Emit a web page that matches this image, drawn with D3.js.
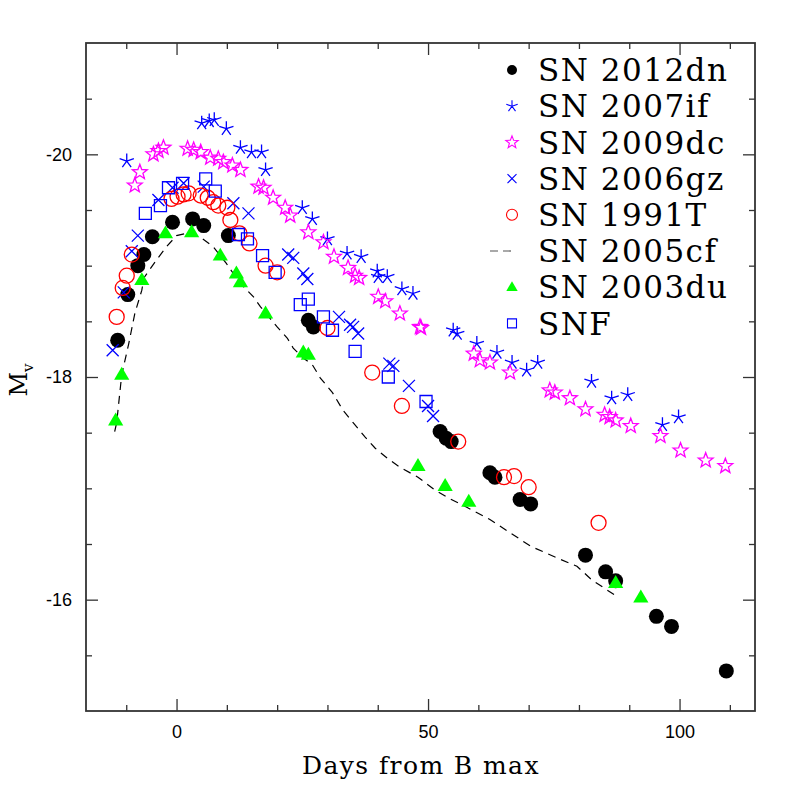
<!DOCTYPE html>
<html>
<head>
<meta charset="utf-8">
<script src="https://cdn.jsdelivr.net/npm/d3@7"></script>
<style>
  body { margin: 0; background: #fff; }
  svg { display: block; }
</style>
</head>
<body>
<div id="chart"></div>
<script>
// light curves: [days from B max, M_V]
const sn2012dn = [[-11.7,-18.33],[-9.7,-18.74],[-7.7,-19.00],[-6.5,-19.10],[-4.8,-19.26],[-0.8,-19.39],[3.2,-19.42],[5.4,-19.36],[10.3,-19.27],[26.2,-18.51],[27.2,-18.45],[52.4,-17.51],[53.6,-17.45],[54.6,-17.42],[62.3,-17.14],[63.3,-17.10],[68.3,-16.90],[70.4,-16.86],[81.3,-16.40],[85.3,-16.25],[87.3,-16.17],[95.4,-15.85],[98.4,-15.76],[109.3,-15.36]]
const sn2007if = [[-9.9,-19.94],[5.0,-20.28],[6.5,-20.30],[7.5,-20.31],[9.9,-20.23],[12.7,-20.06],[14.9,-20.02],[16.9,-20.02],[17.7,-19.86],[25.0,-19.52],[27.0,-19.42],[30.0,-19.24],[33.9,-19.11],[36.7,-19.08],[39.9,-18.95],[40.1,-18.90],[41.9,-18.90],[44.8,-18.79],[47.0,-18.75],[55.0,-18.42],[55.8,-18.39],[59.7,-18.30],[63.7,-18.22],[66.7,-18.13],[69.6,-18.06],[71.8,-18.13],[82.5,-17.96],[86.5,-17.81],[89.7,-17.84],[96.6,-17.57],[99.8,-17.64]]
const sn2009dc = [[-8.3,-19.72],[-7.3,-19.84],[-4.6,-20.00],[-3.6,-20.03],[-2.6,-20.06],[2.2,-20.05],[3.4,-20.04],[4.8,-20.02],[6.7,-19.97],[8.3,-19.96],[9.3,-19.93],[11.1,-19.90],[12.7,-19.86],[16.3,-19.71],[17.3,-19.70],[19.2,-19.61],[21.6,-19.52],[22.6,-19.45],[26.2,-19.30],[29.2,-19.21],[31.3,-19.08],[34.1,-18.98],[35.5,-18.91],[36.3,-18.89],[40.1,-18.72],[41.5,-18.68],[44.4,-18.57],[48.4,-18.45],[48.6,-18.44],[59.1,-18.21],[60.3,-18.15],[62.3,-18.13],[66.3,-18.04],[74.2,-17.88],[75.2,-17.86],[78.2,-17.81],[81.3,-17.71],[85.1,-17.66],[86.1,-17.64],[87.3,-17.61],[90.3,-17.56],[96.2,-17.47],[100.2,-17.34],[105.2,-17.25],[109.1,-17.20]]
const sn2006gz = [[-12.7,-18.24],[-10.5,-18.76],[-8.9,-19.13],[-7.7,-19.27],[-3.6,-19.59],[-0.8,-19.70],[1.4,-19.74],[5.4,-19.71],[11.3,-19.56],[14.3,-19.47],[22.2,-19.10],[23.2,-19.07],[25.2,-18.93],[26.0,-18.88],[32.3,-18.54],[34.5,-18.47],[35.1,-18.45],[36.1,-18.39],[42.3,-18.12],[43.1,-18.10],[46.2,-17.92],[50.0,-17.74],[51.0,-17.65]]
const sn1991T = [[-11.9,-18.54],[-10.7,-18.80],[-9.9,-18.91],[-8.9,-19.10],[-1.0,-19.60],[0.2,-19.62],[1.4,-19.64],[2.4,-19.65],[4.8,-19.63],[6.2,-19.61],[7.3,-19.57],[8.3,-19.54],[10.1,-19.52],[10.7,-19.41],[12.5,-19.29],[14.5,-19.20],[17.7,-19.00],[20.0,-18.94],[30.0,-18.44],[38.9,-18.04],[44.8,-17.74],[56.0,-17.42],[65.1,-17.10],[67.1,-17.11],[70.0,-17.01],[83.9,-16.69]]
const sn2005cf = [[-12.3,-17.51],[-11.9,-17.59],[-10.9,-18.02],[-9.5,-18.30],[-8.3,-18.57],[-6.9,-18.78],[-6.5,-18.89],[-4.0,-19.05],[-2.0,-19.17],[0.0,-19.27],[2.0,-19.29],[4.6,-19.26],[7.3,-19.17],[9.9,-19.02],[12.5,-18.85],[15.3,-18.72],[16.7,-18.63],[20.0,-18.45],[22.0,-18.35],[23.2,-18.26],[25.2,-18.17],[27.0,-18.11],[28.6,-17.99],[31.0,-17.86],[33.1,-17.70],[35.1,-17.59],[37.5,-17.46],[39.5,-17.36],[41.9,-17.27],[44.4,-17.19],[48.0,-17.10],[51.2,-16.99],[54.2,-16.91],[57.7,-16.83],[62.3,-16.72],[70.4,-16.48],[76.4,-16.36],[79.6,-16.30],[82.5,-16.18],[87.5,-16.03]]
const sn2003du = [[-12.1,-17.61],[-10.9,-18.02],[-6.9,-18.87],[-2.2,-19.29],[3.0,-19.30],[8.7,-19.09],[11.9,-18.93],[12.7,-18.85],[17.7,-18.57],[25.2,-18.22],[26.2,-18.20],[48.0,-17.20],[53.4,-17.02],[58.1,-16.88],[87.3,-16.15],[92.3,-16.02]]
const snf = [[-6.2,-19.47],[-3.2,-19.54],[-1.6,-19.70],[1.2,-19.74],[5.8,-19.78],[7.7,-19.67],[12.3,-19.28],[14.1,-19.24],[17.1,-19.09],[19.6,-18.94],[24.6,-18.65],[26.2,-18.70],[29.2,-18.54],[31.0,-18.42],[35.5,-18.23],[42.1,-18.00],[49.6,-17.78]]

const legendNames = ["SN 2012dn","SN 2007if","SN 2009dc","SN 2006gz","SN 1991T","SN 2005cf","SN 2003du","SNF"]
const xMajor = [0, 50, 100]
const yMajor = [-20, -18, -16]

const W = 797, H = 797
const mLeft = 86, mRight = 755, mTop = 43, mBottom = 711

const x = d3.scaleLinear().domain([-18, 115]).range([mLeft, mRight])
const y = d3.scaleLinear().domain([-21, -15]).range([mTop, mBottom])

const svg = d3.select("#chart").append("svg").attr("width", W).attr("height", H)

// custom marker shapes, size = radius
const crossX = { draw(c, r) { c.moveTo(-r,-r); c.lineTo(r,r); c.moveTo(-r,r); c.lineTo(r,-r) } }
const aster5 = { draw(c, r) {
  for (let k = 0; k < 5; k++) {
    const a = -Math.PI/2 + k*2*Math.PI/5
    c.moveTo(0,0); c.lineTo(r*Math.cos(a), r*Math.sin(a))
  }
}}
const star5 = { draw(c, r) {
  const ri = r*0.42
  for (let k = 0; k < 10; k++) {
    const a = -Math.PI/2 + k*Math.PI/5, rr = k % 2 ? ri : r
    k ? c.lineTo(rr*Math.cos(a), rr*Math.sin(a)) : c.moveTo(rr*Math.cos(a), rr*Math.sin(a))
  }
  c.closePath()
}}
const circ = { draw(c, r) { c.moveTo(r,0); c.arc(0,0,r,0,2*Math.PI) } }
const sq = { draw(c, r) { c.rect(-r,-r,2*r,2*r) } }
const tri = { draw(c, r) { c.moveTo(0,-r); c.lineTo(r*0.95,r*0.62); c.lineTo(-r*0.95,r*0.62); c.closePath() } }

const series = [
  {data: sn2012dn, type: circ, r: 7.5, small: 5, fill: "#000", stroke: "none"},
  {data: sn2007if, type: aster5, r: 7.5, small: 6, fill: "none", stroke: "#0000ff"},
  {data: sn2009dc, type: star5, r: 7.8, small: 6.5, fill: "none", stroke: "#ff00ff"},
  {data: sn2006gz, type: crossX, r: 6, small: 4.5, fill: "none", stroke: "#0000ff"},
  {data: sn1991T, type: circ, r: 7.5, small: 5.5, fill: "none", stroke: "#ff0000"},
  {data: null},
  {data: sn2003du, type: tri, r: 8, small: 6, fill: "#00ff00", stroke: "none"},
  {data: snf, type: sq, r: 6, small: 4.5, fill: "none", stroke: "#0000ff"}
]

// axes: ticks point inward on all four sides
function axisSet(axisFn, scale, vals, size, translate, labels) {
  const a = axisFn(scale).tickValues(vals).tickSize(size).tickPadding(14)
  a.tickFormat(labels ? d => String(d) : "")
  const g = svg.append("g").attr("transform", translate).call(a)
  g.select(".domain").remove()
  g.selectAll("line").attr("stroke", "#333").attr("stroke-width", 1.3)
  g.selectAll("text").attr("font-family", "Liberation Sans, Arial, sans-serif").attr("font-size", 18).attr("fill", "#000")
  return g
}
const xMinor = d3.range(-10, 111, 10).filter(d => d % 50 !== 0)
const yMinor = d3.range(-20.5, -15, 0.5).filter(d => d % 2 !== 0)

axisSet(d3.axisBottom, x, xMajor, -12, `translate(0,${mBottom})`, true)
axisSet(d3.axisBottom, x, xMinor, -6, `translate(0,${mBottom})`, false)
axisSet(d3.axisTop, x, xMajor, -12, `translate(0,${mTop})`, false)
axisSet(d3.axisTop, x, xMinor, -6, `translate(0,${mTop})`, false)
axisSet(d3.axisLeft, y, yMajor, -12, `translate(${mLeft},0)`, true)
axisSet(d3.axisLeft, y, yMinor, -6, `translate(${mLeft},0)`, false)
axisSet(d3.axisRight, y, yMajor, -12, `translate(${mRight},0)`, false)
axisSet(d3.axisRight, y, yMinor, -6, `translate(${mRight},0)`, false)

svg.append("rect").attr("x", mLeft).attr("y", mTop).attr("width", mRight-mLeft).attr("height", mBottom-mTop)
  .attr("fill", "none").attr("stroke", "#333").attr("stroke-width", 1.8)

// axis titles
svg.append("text").attr("x", 421).attr("y", 774).attr("text-anchor", "middle")
  .attr("font-family", "DejaVu Serif, serif").attr("font-size", 25).attr("letter-spacing", 1.4)
  .text("Days from B max")
const yl = svg.append("text").attr("transform", "translate(27,380) rotate(-90)").attr("text-anchor", "middle")
  .attr("font-family", "DejaVu Serif, serif").attr("font-size", 24)
yl.append("tspan").text("M")
yl.append("tspan").attr("font-size", 15).attr("dy", 6).text("v")

const plot = svg.append("g")

series.forEach((s, i) => {
  if (i === 5) {
    plot.append("path").datum(sn2005cf)
      .attr("d", d3.line().x(d => x(d[0])).y(d => y(d[1])))
      .attr("fill", "none").attr("stroke", "#000").attr("stroke-width", 1.2).attr("stroke-dasharray", "8,6")
    return
  }
  plot.selectAll(null).data(s.data).enter().append("path")
    .attr("transform", d => `translate(${x(d[0])},${y(d[1])})`)
    .attr("d", d3.symbol().type(s.type).size(s.r))
    .attr("fill", s.fill).attr("stroke", s.stroke).attr("stroke-width", 1.3)
})

// legend
const lg = svg.append("g")
legendNames.forEach((name, i) => {
  const cy = 70 + i*36.2
  const s = series[i]
  if (i === 5) {
    lg.append("line").attr("x1", 490).attr("x2", 512).attr("y1", cy).attr("y2", cy)
      .attr("stroke", "#555").attr("stroke-width", 1.2).attr("stroke-dasharray", "8,5")
  } else {
    lg.append("path").attr("transform", `translate(512,${cy})`)
      .attr("d", d3.symbol().type(s.type).size(s.small))
      .attr("fill", s.fill).attr("stroke", s.stroke).attr("stroke-width", 1.1)
  }
  lg.append("text").attr("x", 538).attr("y", cy).attr("dy", "0.36em")
    .attr("font-family", "DejaVu Serif, serif").attr("font-size", 31).attr("letter-spacing", 1.5)
    .text(name)
})
</script>
</body>
</html>
